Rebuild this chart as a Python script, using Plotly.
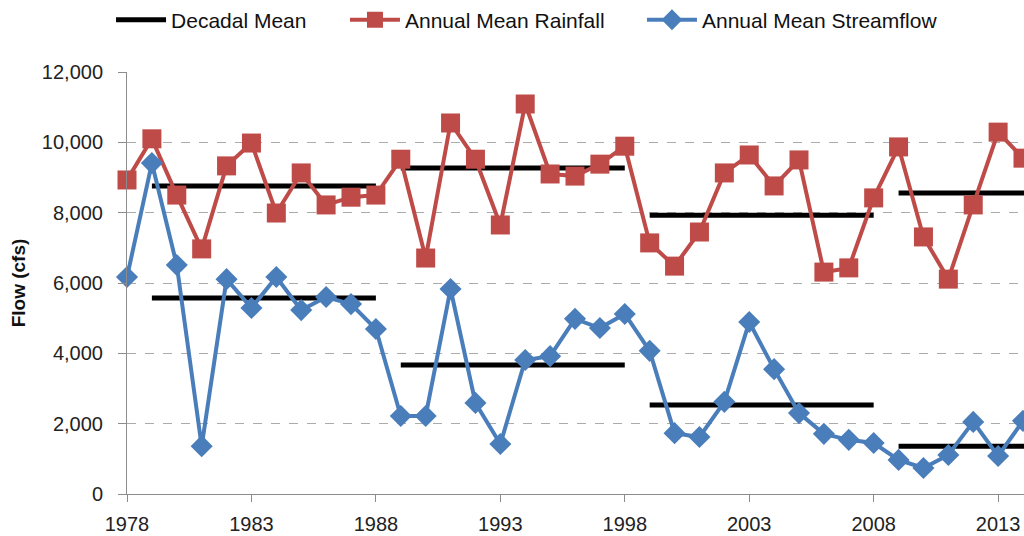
import plotly.graph_objects as go

years = list(range(1978, 2015))
rainfall = [8930, 10100, 8500, 6970, 9330, 9980, 7990, 9130, 8220, 8440, 8500,
            9520, 6710, 10550, 9520, 7650, 11090, 9100, 9040, 9380, 9890,
            7140, 6480, 7450, 9130, 9640, 8760, 9500, 6310, 6430, 8420,
            9870, 7310, 6110, 8220, 10290, 9550]
streamflow = [6170, 9410, 6510, 1360, 6110, 5290, 6170, 5230, 5600, 5400, 4690,
              2220, 2220, 5830, 2590, 1420, 3810, 3920, 4980, 4720, 5120,
              4070, 1730, 1620, 2620, 4890, 3550, 2300, 1710, 1540, 1450,
              970, 740, 1110, 2050, 1080, 2080]
decade_start = [1979, 1989, 1999, 2009]
decade_end = [1988, 1998, 2008, 2018]
decadal_rain_mean = [8760, 9270, 7930, 8560]
decadal_flow_mean = [5570, 3670, 2530, 1360]
y_ticks = [0, 2000, 4000, 6000, 8000, 10000, 12000]
x_ticks = [1978, 1983, 1988, 1993, 1998, 2003, 2008, 2013]

FONT = "Liberation Sans, Arial, sans-serif"
RED = "#BE4B48"
BLUE = "#4A7EBB"

# decadal mean segments (one trace, separated by None)
dx, dy = [], []
for s, e, m in zip(decade_start, decade_end, decadal_rain_mean):
    dx += [s, e, None]
    dy += [m, m, None]
for s, e, m in zip(decade_start, decade_end, decadal_flow_mean):
    dx += [s, e, None]
    dy += [m, m, None]

fig = go.Figure()
fig.add_trace(go.Scatter(x=dx, y=dy, mode="lines", name="Decadal Mean",
                         line=dict(color="black", width=5), connectgaps=False,
                         legend="legend"))
fig.add_trace(go.Scatter(x=years, y=rainfall, mode="lines+markers",
                         name="Annual Mean Rainfall",
                         line=dict(color=RED, width=4),
                         marker=dict(symbol="square", size=19, color=RED),
                         cliponaxis=False, legend="legend2"))
fig.add_trace(go.Scatter(x=years, y=streamflow, mode="lines+markers",
                         name="Annual Mean Streamflow",
                         line=dict(color=BLUE, width=4),
                         marker=dict(symbol="diamond", size=17, color=BLUE),
                         cliponaxis=False, legend="legend3"))

leg_common = dict(orientation="h", xanchor="left", y=1.123, yanchor="middle",
                  font=dict(family=FONT, size=21, color="#111111"),
                  bgcolor="rgba(0,0,0,0)", itemwidth=50)

fig.update_layout(
    width=1024, height=536,
    margin=dict(l=127, r=0, t=72, b=42, autoexpand=False),
    paper_bgcolor="white", plot_bgcolor="white",
    font=dict(family=FONT, size=20, color="#222222"),
    showlegend=True,
    legend=dict(x=-0.0178, **leg_common),
    legend2=dict(x=0.2430, **leg_common),
    legend3=dict(x=0.5741, **leg_common),
)
fig.update_xaxes(range=[1978, 2014.04], tickvals=x_ticks, ticktext=[str(t) for t in x_ticks],
                 showgrid=False, showline=True, linecolor="#8C8C8C", linewidth=1,
                 ticks="outside", ticklen=7, tickcolor="#8C8C8C", zeroline=False,
                 automargin=False, ticklabelstandoff=5,
                 tickfont=dict(family=FONT, size=20, color="#222222"))
fig.update_yaxes(range=[0, 12000], tickvals=y_ticks, tickformat=",",
                 showgrid=True, gridcolor="#ABABAB", griddash="dash", gridwidth=1,
                 showline=True, linecolor="#8C8C8C", linewidth=1,
                 ticks="outside", ticklen=8, tickcolor="#8C8C8C", zeroline=False,
                 ticklabelstandoff=11, automargin=False,
                 tickfont=dict(family=FONT, size=20, color="#222222"),
                 title=dict(text="<b>Flow (cfs)</b>", standoff=11,
                            font=dict(family=FONT, size=19, color="#111111")))

fig.write_html("out.html",
               config={"displayModeBar": False},
               post_script="document.body.style.margin='0';"
                           "document.body.style.overflow='hidden';")
